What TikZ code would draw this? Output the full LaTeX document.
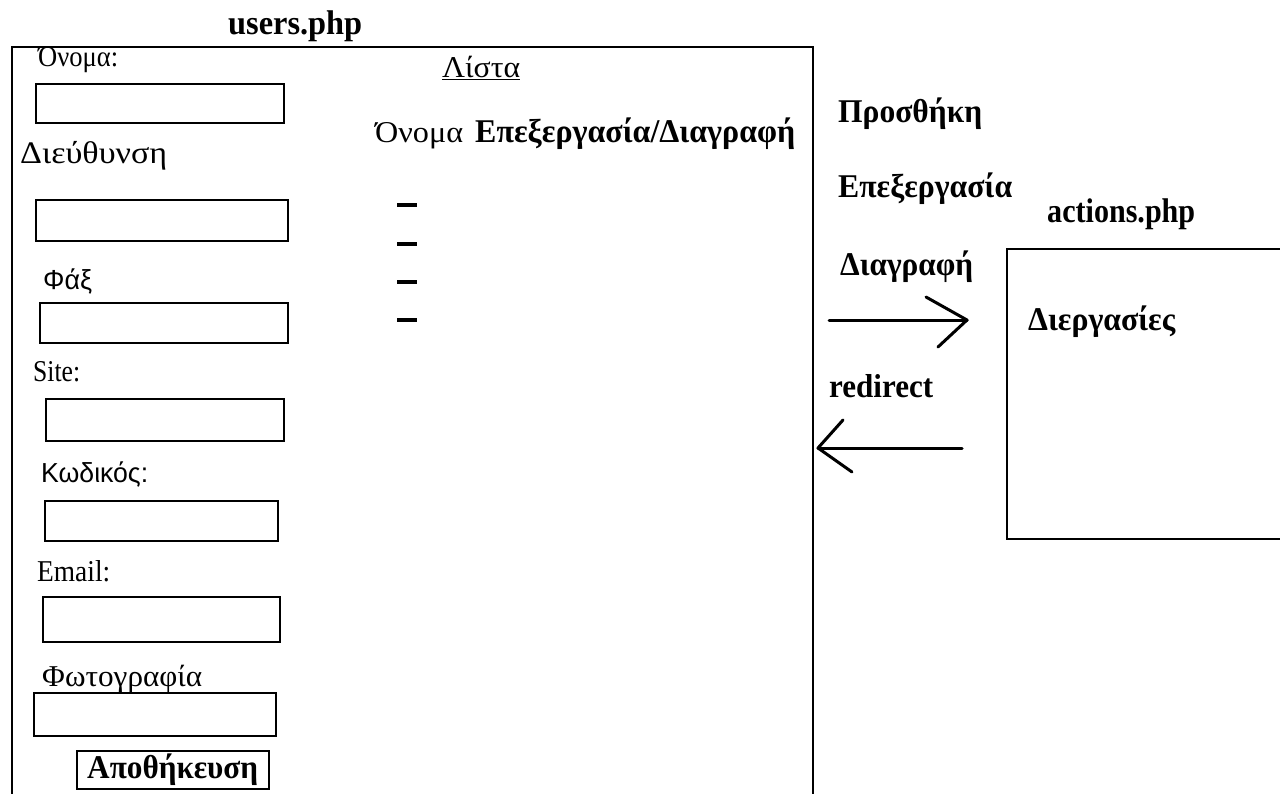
\documentclass[tikz,border=0pt]{standalone}
\usepackage{fontspec}
\usepackage{graphicx}
\setmainfont{Liberation Serif}
\newfontfamily\sansgr{Liberation Sans}
\newcommand{\fitw}[3]{\resizebox{#1}{#2\height}{#3}}
\begin{document}
\begin{tikzpicture}[x=1pt,y=-1pt,
  lbl/.style={inner sep=0pt,anchor=base west,font=\fontsize{27}{30}\selectfont},
  slbl/.style={inner sep=0pt,anchor=base west,font=\sansgr\fontsize{25}{28}\selectfont},
  blbl/.style={inner sep=0pt,anchor=base west,font=\fontsize{31}{34}\selectfont\bfseries},
  title/.style={inner sep=0pt,anchor=base west,font=\fontsize{32}{35}\selectfont\bfseries},
  frame/.style={draw,line width=2pt,inner sep=0pt,anchor=north west},
  field/.style={draw,line width=2pt,inner sep=0pt,anchor=north west},
  arr/.style={line width=3pt,line cap=round,line join=round},
  dashmark/.style={line width=4pt}
]
\useasboundingbox (0,0) rectangle (1280,793);
\fill[white] (0,0) rectangle (1280,793);

% main page frame
\node[frame,minimum width=801pt,minimum height=780pt] (usersbox) at (11,46) {};
\node[title] (userstitle) at (228,34) {\fitw{134pt}{1.07}{users.php}};

% form fields
\node[lbl,font=\fontsize{26}{30}\selectfont] (lname) at (38,66) {\fitw{80pt}{1.12}{Όνομα:}};
\node[field,minimum width=248pt,minimum height=39pt] (fname) at (35,83) {};
\node[lbl,font=\fontsize{28}{32}\selectfont] (laddr) at (20,163) {\fitw{147pt}{1.12}{Διεύθυνση}};
\node[field,minimum width=252pt,minimum height=41pt] (faddr) at (35,199) {};
\node[slbl] (lfax) at (43,289) {\fitw{49pt}{1.1}{Φάξ}};
\node[field,minimum width=248pt,minimum height=40pt] (ffax) at (39,302) {};
\node[lbl] (lsite) at (33,381) {\fitw{47pt}{1.12}{Site:}};
\node[field,minimum width=238pt,minimum height=42pt] (fsite) at (45,398) {};
\node[slbl] (lcode) at (41,482) {\fitw{107pt}{1.1}{Κωδικός:}};
\node[field,minimum width=233pt,minimum height=40pt] (fcode) at (44,500) {};
\node[lbl] (lmail) at (37,581) {\fitw{73pt}{1.12}{Email:}};
\node[field,minimum width=237pt,minimum height=45pt] (fmail) at (42,596) {};
\node[lbl] (lphoto) at (42,686) {\fitw{160pt}{1.12}{Φωτογραφία}};
\node[field,minimum width=242pt,minimum height=43pt] (fphoto) at (33,692) {};
\node[field,minimum width=192pt,minimum height=38pt] (save) at (76,750) {};
\node[blbl] (lsave) at (87,778) {\fitw{171pt}{1.07}{Αποθήκευση}};

% list
\node[lbl] (llist) at (442,77) {\fitw{78pt}{1.12}{\underline{Λίστα}}};
\node[lbl] (lcolname) at (375,142) {\fitw{88pt}{1.12}{Όνομα}};
\node[blbl] (lcoledit) at (475,142) {\fitw{320pt}{1.07}{Επεξεργασία/Διαγραφή}};
\foreach \yy/\nm in {205/d1,244/d2,282/d3,320/d4}{
  \coordinate (\nm a) at (397,\yy);
  \coordinate (\nm b) at (417,\yy);
  \draw[dashmark] (\nm a) -- (\nm b);
}

% right side
\node[blbl] (ladd) at (838,122) {\fitw{144pt}{1.07}{Προσθήκη}};
\node[blbl] (ledit) at (838,197) {\fitw{174pt}{1.07}{Επεξεργασία}};
\node[title] (actitle) at (1047,222) {\fitw{148pt}{1.07}{actions.php}};
\node[blbl] (ldel) at (840,275) {\fitw{133pt}{1.07}{Διαγραφή}};
\node[frame,minimum width=300pt,minimum height=290pt] (actbox) at (1006,248) {};
\node[blbl] (lproc) at (1028,330) {\fitw{147pt}{1.07}{Διεργασίες}};
\node[blbl] (lredir) at (829,397) {\fitw{104pt}{1.07}{redirect}};

% arrows
\coordinate (r0) at (829,320);
\coordinate (r1) at (967,320);
\coordinate (rh1) at (926,297);
\coordinate (rh2) at (938,347);
\draw[arr] (r0) -- (r1);
\draw[arr] (rh1) -- (r1) -- (rh2);

\coordinate (l0) at (962,448);
\coordinate (l1) at (818,448);
\coordinate (lh1) at (843,420);
\coordinate (lh2) at (852,472);
\draw[arr] (l0) -- (l1);
\draw[arr] (lh1) -- (l1) -- (lh2);
\end{tikzpicture}
\end{document}
